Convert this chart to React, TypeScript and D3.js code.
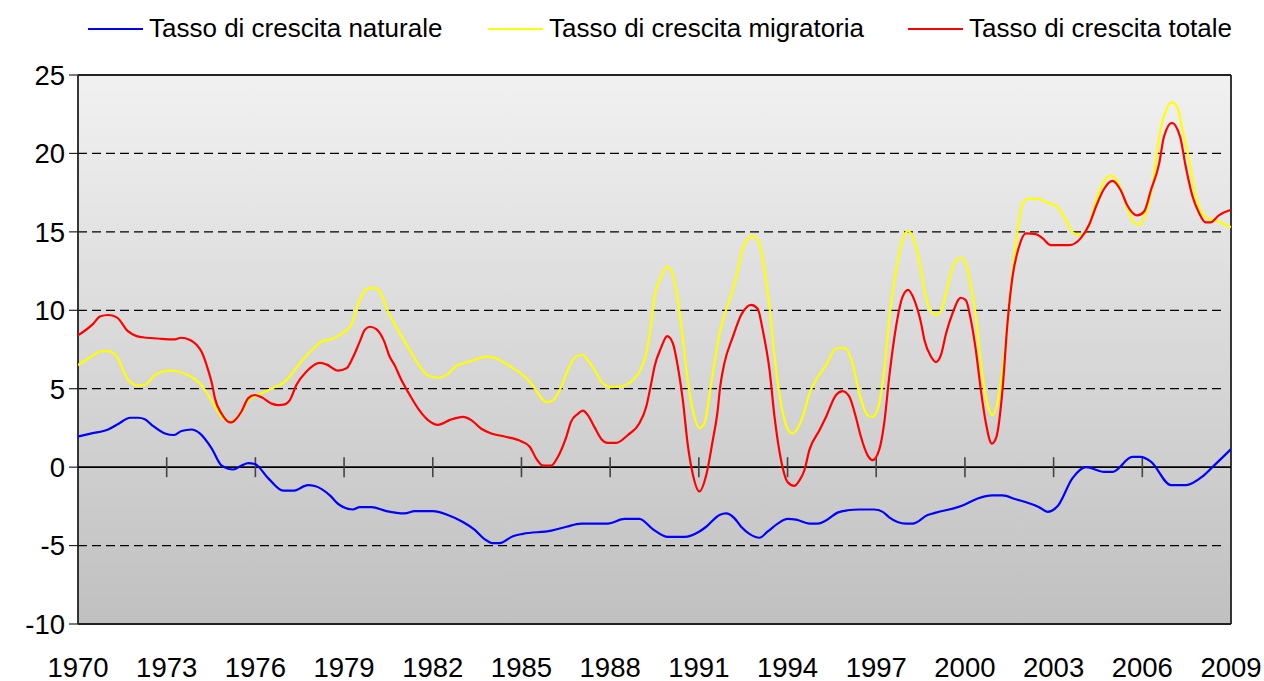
import React from "react";
import * as d3 from "d3";

// Years since 1970 and values (per thousand)
const naturale: [number, number][] = [
  [0, 1.95], [0.46, 2.15], [1.02, 2.4], [1.36, 2.75], [1.76, 3.15], [2.04, 3.15], [2.26, 3.05],
  [2.49, 2.7], [2.94, 2.15], [3.25, 2.05], [3.5, 2.3], [3.84, 2.4], [4.12, 2.15], [4.52, 1.2],
  [4.86, 0.1], [5.25, -0.15], [5.53, 0.1], [5.76, 0.25], [5.98, 0.2], [6.43, -0.7], [6.94, -1.5],
  [7.28, -1.5], [7.78, -1.15], [8.01, -1.2], [8.52, -1.8], [8.8, -2.35], [9.3, -2.7], [9.53, -2.55],
  [9.93, -2.55], [10.43, -2.8], [11.05, -2.95], [11.39, -2.8], [12.01, -2.8], [12.51, -3.05],
  [13.02, -3.5], [13.42, -4.0], [13.76, -4.6], [14.03, -4.85], [14.26, -4.85], [14.71, -4.4],
  [15.05, -4.25], [16.01, -4.05], [16.52, -3.8], [17.02, -3.6], [17.92, -3.6], [18.49, -3.3],
  [18.99, -3.3], [19.44, -3.95], [19.95, -4.45], [20.51, -4.45], [21.02, -4.1], [21.25, -3.8],
  [21.7, -3.05], [21.92, -2.95], [22.2, -3.25], [22.43, -3.8], [22.71, -4.25], [23.05, -4.5],
  [23.33, -4.1], [23.67, -3.6], [24.0, -3.3], [24.29, -3.35], [24.74, -3.6], [25.02, -3.6],
  [25.3, -3.4], [25.69, -2.9], [26.03, -2.75], [26.43, -2.7], [26.93, -2.7], [27.22, -2.85],
  [27.44, -3.2], [27.72, -3.5], [28.01, -3.6], [28.23, -3.6], [28.74, -3.05], [29.02, -2.9],
  [29.92, -2.45], [30.43, -2.0], [30.93, -1.8], [31.27, -1.8], [31.72, -2.05], [32.17, -2.3],
  [32.51, -2.55], [32.79, -2.85], [33.13, -2.5], [33.64, -0.7], [34.09, 0.0], [34.71, -0.3],
  [34.99, -0.3], [35.66, 0.65], [35.95, 0.65], [36.29, 0.35], [36.97, -1.15], [37.47, -1.15],
  [38.03, -0.6], [38.37, 0.0], [39.0, 1.15],
];

const migratoria: [number, number][] = [
  [0, 6.5], [0.46, 7.05], [0.8, 7.4], [1.02, 7.4], [1.31, 7.05], [1.7, 5.55], [2.04, 5.2],
  [2.26, 5.25], [2.66, 5.95], [3.11, 6.15], [3.39, 6.1], [3.73, 5.85], [4.12, 5.35], [4.52, 4.25],
  [4.86, 3.2], [5.14, 2.9], [5.42, 3.2], [5.76, 4.25], [6.21, 4.7], [6.66, 5.1], [7.0, 5.45],
  [7.45, 6.5], [7.9, 7.45], [8.29, 8.05], [8.57, 8.15], [8.91, 8.5], [9.25, 9.1], [9.47, 10.35],
  [9.7, 11.25], [9.98, 11.45], [10.21, 11.2], [10.49, 9.9], [10.82, 8.75], [11.16, 7.65],
  [11.5, 6.6], [11.84, 5.85], [12.18, 5.7], [12.51, 5.95], [12.8, 6.45], [13.08, 6.65],
  [13.42, 6.85], [13.81, 7.05], [14.2, 6.9], [14.6, 6.45], [14.99, 5.95], [15.33, 5.35],
  [15.56, 4.7], [15.84, 4.15], [16.06, 4.25], [16.29, 4.9], [16.57, 6.2], [16.85, 7.05],
  [17.08, 7.15], [17.25, 6.8], [17.47, 6.2], [17.75, 5.35], [18.04, 5.1], [18.37, 5.15],
  [18.77, 5.55], [19.05, 6.3], [19.22, 7.25], [19.39, 9.15], [19.5, 10.85], [19.73, 12.15],
  [19.9, 12.75], [20.04, 12.65], [20.23, 11.3], [20.4, 9.15], [20.62, 5.55], [20.85, 3.2],
  [21.02, 2.5], [21.19, 2.8], [21.42, 5.35], [21.7, 8.5], [21.92, 10.0], [22.15, 11.3],
  [22.37, 13.0], [22.5, 14.05], [22.82, 14.75], [23.05, 14.25], [23.22, 12.55], [23.39, 10.2],
  [23.56, 7.05], [23.78, 4.05], [24.0, 2.45], [24.17, 2.15], [24.51, 3.2], [24.74, 4.7],
  [24.96, 5.55], [25.3, 6.5], [25.64, 7.55], [25.92, 7.6], [26.2, 6.6], [26.43, 4.7],
  [26.71, 3.3], [26.88, 3.2], [27.1, 4.05], [27.27, 6.2], [27.44, 9.4], [27.67, 12.55],
  [27.89, 14.5], [28.08, 15.05], [28.23, 14.7], [28.45, 13.2], [28.68, 10.85], [28.9, 9.8],
  [29.04, 9.7], [29.24, 10.2], [29.41, 11.5], [29.64, 13.0], [29.86, 13.35], [30.03, 13.0],
  [30.2, 11.5], [30.37, 9.6], [30.54, 6.6], [30.76, 4.05], [30.93, 3.3], [31.1, 4.1],
  [31.33, 7.05], [31.55, 11.3], [31.78, 15.1], [31.95, 16.8], [32.12, 17.1], [32.51, 17.1],
  [32.79, 16.85], [33.13, 16.6], [33.41, 15.75], [33.69, 14.9], [33.92, 14.8], [34.2, 15.45],
  [34.48, 17.25], [34.77, 18.4], [34.93, 18.6], [35.16, 18.2], [35.44, 16.8], [35.66, 15.75],
  [35.89, 15.45], [36.12, 16.2], [36.34, 17.9], [36.57, 21.05], [36.8, 22.75], [37.0, 23.25],
  [37.19, 22.9], [37.36, 21.5], [37.58, 19.6], [37.81, 17.25], [38.14, 15.95], [38.59, 15.65],
  [39.0, 15.3],
];

const totale: [number, number][] = [
  [0, 8.4], [0.52, 9.15], [0.74, 9.6], [1.02, 9.7], [1.31, 9.55], [1.7, 8.65], [1.98, 8.35],
  [2.32, 8.25], [2.71, 8.2], [3.05, 8.15], [3.28, 8.15], [3.48, 8.25], [3.79, 8.1], [4.01, 7.8],
  [4.18, 7.35], [4.4, 6.2], [4.54, 5.25], [4.63, 4.4], [4.86, 3.4], [5.08, 2.9], [5.19, 2.85],
  [5.31, 3.0], [5.53, 3.55], [5.76, 4.4], [5.98, 4.6], [6.21, 4.45], [6.55, 4.05], [6.77, 3.95],
  [7.0, 4.0], [7.16, 4.25], [7.39, 5.25], [7.73, 6.1], [8.18, 6.65], [8.4, 6.55], [8.8, 6.15],
  [9.08, 6.3], [9.3, 7.0], [9.53, 8.0], [9.7, 8.75], [9.87, 8.95], [10.09, 8.8], [10.35, 8.05],
  [10.54, 7.05], [10.71, 6.5], [10.94, 5.55], [11.16, 4.8], [11.5, 3.75], [11.84, 3.0],
  [12.18, 2.7], [12.57, 3.0], [13.02, 3.2], [13.3, 3.0], [13.64, 2.45], [13.98, 2.15],
  [14.43, 1.95], [14.99, 1.65], [15.28, 1.3], [15.5, 0.55], [15.73, 0.1], [16.01, 0.1],
  [16.23, 0.65], [16.52, 1.95], [16.68, 2.9], [16.91, 3.4], [17.08, 3.6], [17.25, 3.3],
  [17.47, 2.55], [17.7, 1.8], [17.92, 1.55], [18.21, 1.55], [18.6, 2.05], [18.99, 2.8],
  [19.22, 3.85], [19.39, 5.35], [19.5, 6.4], [19.73, 7.65], [19.93, 8.35], [20.12, 7.9],
  [20.29, 6.4], [20.46, 4.25], [20.62, 1.5], [20.79, -0.4], [21.02, -1.55], [21.25, -0.5],
  [21.47, 1.7], [21.63, 3.5], [21.72, 5.1], [21.86, 6.6], [22.15, 8.3], [22.43, 9.7],
  [22.77, 10.35], [22.99, 10.1], [23.16, 8.75], [23.39, 6.2], [23.56, 3.2], [23.78, 0.45],
  [24.0, -0.95], [24.23, -1.2], [24.4, -0.85], [24.57, -0.2], [24.74, 1.1], [25.08, 2.35],
  [25.3, 3.2], [25.64, 4.6], [25.86, 4.85], [26.09, 4.5], [26.31, 3.2], [26.48, 1.95],
  [26.71, 0.75], [26.88, 0.45], [27.1, 1.1], [27.27, 2.8], [27.44, 5.75], [27.67, 8.95],
  [27.89, 10.85], [28.08, 11.3], [28.29, 10.65], [28.52, 9.15], [28.63, 8.1], [28.85, 7.05],
  [29.02, 6.7], [29.19, 7.15], [29.36, 8.5], [29.58, 9.8], [29.86, 10.8], [30.03, 10.65],
  [30.2, 9.4], [30.37, 7.45], [30.54, 4.9], [30.71, 2.8], [30.91, 1.5], [31.06, 1.9],
  [31.27, 4.9], [31.44, 9.2], [31.61, 12.15], [31.83, 14.05], [32.06, 14.9], [32.4, 14.85],
  [32.62, 14.6], [32.91, 14.15], [33.52, 14.15], [33.92, 14.6], [34.2, 15.45], [34.43, 16.6],
  [34.71, 17.75], [34.99, 18.25], [35.27, 17.65], [35.49, 16.7], [35.83, 16.05], [36.06, 16.3],
  [36.29, 17.65], [36.57, 19.35], [36.73, 21.05], [37.0, 21.95], [37.28, 21.05], [37.47, 19.15],
  [37.7, 17.25], [37.92, 16.2], [38.14, 15.6], [38.31, 15.6], [38.59, 16.05], [39.0, 16.4],
];

const seriesNames = ["Tasso di crescita naturale", "Tasso di crescita migratoria", "Tasso di crescita totale"];
const seriesColors = ["#0000ff", "#ffff00", "#ff0000"];
const yTicks = [-10, -5, 0, 5, 10, 15, 20, 25];
const xTickYears = d3.range(1970, 2010, 3);

const W = 1264;
const H = 681;
const L = 78, R = 1231, T = 75, B = 624;

export default function App() {
  const x = d3.scaleLinear().domain([1970, 2009]).range([L, R]);
  const y = d3.scaleLinear().domain([-10, 25]).range([B, T]);
  const line = d3
    .line<[number, number]>()
    .x((d) => x(1970 + d[0]))
    .y((d) => y(d[1]))
    .curve(d3.curveMonotoneX);
  const allSeries = [naturale, migratoria, totale];
  const font = "'Liberation Sans', Arial, sans-serif";
  const legendX = [88, 488, 908];

  return (
    <svg width={W} height={H} style={{ position: "absolute", left: 0, top: 0 }} fontFamily={font}>
      <defs>
        <linearGradient id="bg" x1="0" y1="0" x2="0" y2="1">
          <stop offset="0%" stopColor="#f1f1f1" />
          <stop offset="100%" stopColor="#c0c0c0" />
        </linearGradient>
        <clipPath id="plot">
          <rect x={L} y={T - 2} width={R - L} height={B - T + 4} />
        </clipPath>
      </defs>
      <rect width={W} height={H} fill="#ffffff" />
      <rect x={L} y={T} width={R - L} height={B - T} fill="url(#bg)" />

      {/* gridlines */}
      {yTicks
        .filter((v) => v !== 0 && v !== -10 && v !== 25)
        .map((v) => (
          <line key={"g" + v} x1={L} x2={R - 7} y1={y(v)} y2={y(v)} stroke="#000" strokeWidth={1.3} strokeDasharray="9,5" />
        ))}

      {/* frame */}
      <line x1={L} x2={R} y1={T} y2={T} stroke="#222" strokeWidth={1.8} />
      <line x1={R} x2={R} y1={T} y2={B} stroke="#222" strokeWidth={1.8} />
      <line x1={L} x2={R} y1={B} y2={B} stroke="#222" strokeWidth={1.8} />
      <line x1={L} x2={L} y1={T} y2={B} stroke="#222" strokeWidth={1.8} />

      {/* y ticks and labels */}
      {yTicks.map((v) => (
        <g key={"y" + v}>
          <line x1={L - 9} x2={L} y1={y(v)} y2={y(v)} stroke="#222" strokeWidth={1.2} />
          <text x={L - 13} y={y(v)} dy="0.36em" textAnchor="end" fontSize={27.5} fill="#000">
            {v}
          </text>
        </g>
      ))}

      {/* zero axis */}
      <line x1={L} x2={R} y1={y(0)} y2={y(0)} stroke="#000" strokeWidth={1.6} />
      {xTickYears
        .filter((yr) => yr !== 1970 && yr !== 2009)
        .map((yr) => (
          <line key={"t" + yr} x1={x(yr)} x2={x(yr)} y1={y(0) - 10} y2={y(0) + 10} stroke="#444" strokeWidth={1.6} />
        ))}

      {/* x labels */}
      {xTickYears.map((yr) => (
        <text key={"xl" + yr} x={x(yr)} y={677} textAnchor="middle" fontSize={27.5} fill="#000">
          {yr}
        </text>
      ))}

      {/* series */}
      <g clipPath="url(#plot)">
        {allSeries.map((s, i) => (
          <path key={"s" + i} d={line(s) || ""} fill="none" stroke={seriesColors[i]} strokeWidth={2.2} strokeLinejoin="round" />
        ))}
      </g>

      {/* legend */}
      {seriesNames.map((name, i) => (
        <g key={"lg" + i}>
          <line x1={legendX[i]} x2={legendX[i] + 55} y1={29} y2={29} stroke={seriesColors[i]} strokeWidth={2.2} />
          <text x={legendX[i] + 61} y={37} fontSize={26} fill="#000">
            {name}
          </text>
        </g>
      ))}
    </svg>
  );
}
